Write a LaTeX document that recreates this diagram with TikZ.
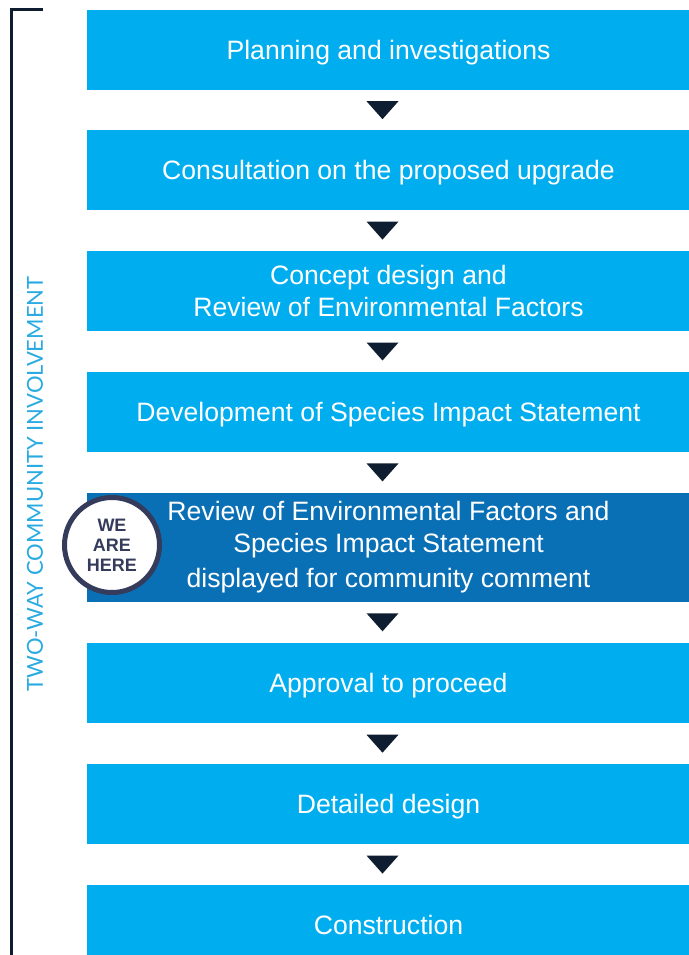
\documentclass[tikz,border=0pt]{standalone}
\usepackage{fontspec}
\setmainfont{Liberation Sans}
\newfontfamily\sidefont{Lato}
\usetikzlibrary{positioning,calc}
\definecolor{stepblue}{HTML}{00AEEF}
\definecolor{herebox}{HTML}{0A70B6}
\definecolor{navy}{HTML}{0E1E30}
\definecolor{slate}{HTML}{343B5B}
\definecolor{sideblue}{HTML}{29ABE2}
\begin{document}
\begin{tikzpicture}[x=1pt, y=-1pt,
    stepbox/.style={rectangle, fill=stepblue, text=white, minimum width=603pt,
      minimum height=80pt, inner sep=0pt, align=center,
      font=\fontsize{26.6}{32}\selectfont},
    oneline/.style={text height=19pt, text depth=0pt},
    tri/.style={fill=navy}]
    \useasboundingbox (0,0) rectangle (688,955);

    \node[stepbox, oneline] (b1) at (388.5,50) {Planning and investigations};
    \node[stepbox, oneline] (b2) [below=40pt of b1] {Consultation on the proposed upgrade};
    \node[stepbox] (b3) [below=40pt of b2] {Concept design and\\Review of Environmental Factors};
    \node[stepbox, oneline] (b4) [below=41pt of b3] {Development of Species Impact Statement};
    \node[stepbox, fill=herebox, minimum height=109pt] (b5) [below=40pt of b4]
      {Review of Environmental Factors and\\Species Impact Statement\\[3pt]displayed for community comment};
    \node[stepbox, oneline] (b6) [below=41pt of b5] {Approval to proceed};
    \node[stepbox, oneline] (b7) [below=41pt of b6] {Detailed design};
    \node[stepbox, oneline] (b8) [below=40pt of b7] {Construction};

    \node[circle, draw=slate, line width=5pt, fill=white, minimum size=95pt,
      inner sep=0pt, text=slate, align=center,
      font=\bfseries\fontsize{18}{20}\selectfont] (here) at (112,545) {WE\\ARE\\HERE};

    \foreach \a/\b in {b1/b2, b2/b3, b3/b4, b4/b5, b5/b6, b6/b7, b7/b8}
        \fill[tri] ($(\a.south)!.5!(\b.north)+(-6,0)$) +(-16,-9) -- +(16,-9) -- +(0,9) -- cycle;

    \draw[navy, line width=3pt] (43,10) -- (11,10) -- (11,960);
    \node[rotate=90, text=sideblue, font=\sidefont\fontsize{22}{24}\selectfont] (side) at (35,484)
      {TWO-WAY COMMUNITY INVOLVEMENT};
\end{tikzpicture}
\end{document}
